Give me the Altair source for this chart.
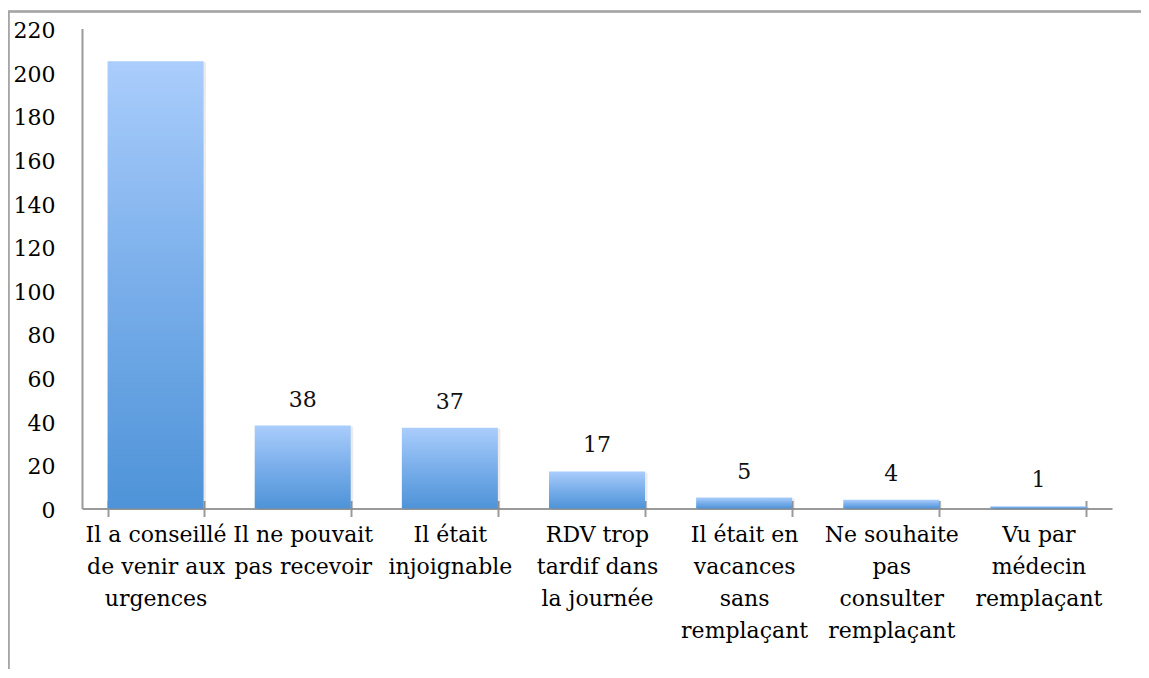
import altair as alt
import pandas as pd

categories = [
    "Il a conseillé\nde venir aux\nurgences",
    "Il ne pouvait\npas recevoir",
    "Il était\ninjoignable",
    "RDV trop\ntardif dans\nla journée",
    "Il était en\nvacances\nsans\nremplaçant",
    "Ne souhaite\npas\nconsulter\nremplaçant",
    "Vu par\nmédecin\nremplaçant",
]
values = [205, 38, 37, 17, 5, 4, 1]
value_labels = ["", "38", "37", "17", "5", "4", "1"]
y_ticks = list(range(0, 221, 20))

df = pd.DataFrame({"cat": categories, "val": values, "lab": value_labels})

FONT = "DejaVu Serif"
FS = 22
PI = 1 - 96 / 147.1

xscale = alt.Scale(domain=categories, paddingInner=PI, paddingOuter=PI / 2)
yscale = alt.Scale(domain=[0, 220], nice=False)

yaxis = alt.Axis(
    values=y_ticks, ticks=False, grid=False, labelFont=FONT, labelFontSize=FS,
    labelColor="#000000", labelPadding=27, domain=True, domainColor="#9a9a9a",
    domainWidth=2, domainOpacity=1, labelBaseline="middle", labelOffset=2,
)

gradient = alt.Gradient(
    gradient="linear",
    stops=[
        alt.GradientStop(color="#AACDFC", offset=0),
        alt.GradientStop(color="#79AEEA", offset=0.5),
        alt.GradientStop(color="#4E93D8", offset=1),
    ],
    x1=0, x2=0, y1=0, y2=1,
)

bars = alt.Chart(df).mark_bar(color=gradient).encode(
    x=alt.X(
        "cat:N", sort=categories, scale=xscale, title=None,
        axis=alt.Axis(
            orient="bottom", labelAngle=0, labelExpr="split(datum.label, '\\n')",
            labelLineHeight=32, labelFont=FONT, labelFontSize=FS, labelColor="#000000",
            labelBaseline="top", labelPadding=8, labelLimit=0, labelOverlap=False,
            tickBand="extent", tickSize=8, tickColor="#9a9a9a", tickWidth=2,
            domainColor="#9a9a9a", domainWidth=2,
        ),
    ),
    y=alt.Y("val:Q", scale=yscale, title=None, axis=yaxis),
)

shadow = alt.Chart(df).mark_bar(color="#000000", opacity=0.08, xOffset=2.5, yOffset=1).encode(
    x=alt.X("cat:N", sort=categories, scale=xscale, axis=None),
    y=alt.Y("val:Q", scale=yscale, title=None, axis=yaxis),
)

text = alt.Chart(df).mark_text(
    font=FONT, fontSize=FS, color="#111111", baseline="alphabetic", dy=-19
).encode(
    x=alt.X(
        "cat:N", sort=categories, scale=xscale, title=None,
        axis=alt.Axis(
            orient="bottom", offset=-8, labels=False, domain=False,
            tickBand="extent", tickSize=8, tickColor="#9a9a9a", tickWidth=2,
        ),
    ),
    y=alt.Y("val:Q", scale=yscale, title=None, axis=yaxis),
    text="lab:N",
)

border_left = alt.Chart(df).mark_rule(color="#a6a6a6", strokeWidth=1.5).encode(
    x=alt.value(-73.5), y=alt.value(-17), y2=alt.value(700)
)
border_top = alt.Chart(df).mark_rule(color="#a6a6a6", strokeWidth=1.5).encode(
    x=alt.value(-74), x2=alt.value(1200), y=alt.value(-17)
)

chart = (
    alt.layer(shadow, bars, text, border_left, border_top)
    .resolve_scale(x="independent")
    .properties(
        width=1030,
        height=480,
        padding={"left": 74, "top": 20.5, "right": 29, "bottom": 160},
        autosize=alt.AutoSizeParams(type="none"),
        view=alt.ViewBackground(stroke="transparent", strokeWidth=0),
    )
    .configure_view(strokeWidth=0, stroke="transparent")
    .configure_axisY(domain=True, domainColor="#9a9a9a", domainWidth=2)
    .configure(background="white")
)

chart.save("out.html", embed_options={"renderer": "svg", "actions": False})
